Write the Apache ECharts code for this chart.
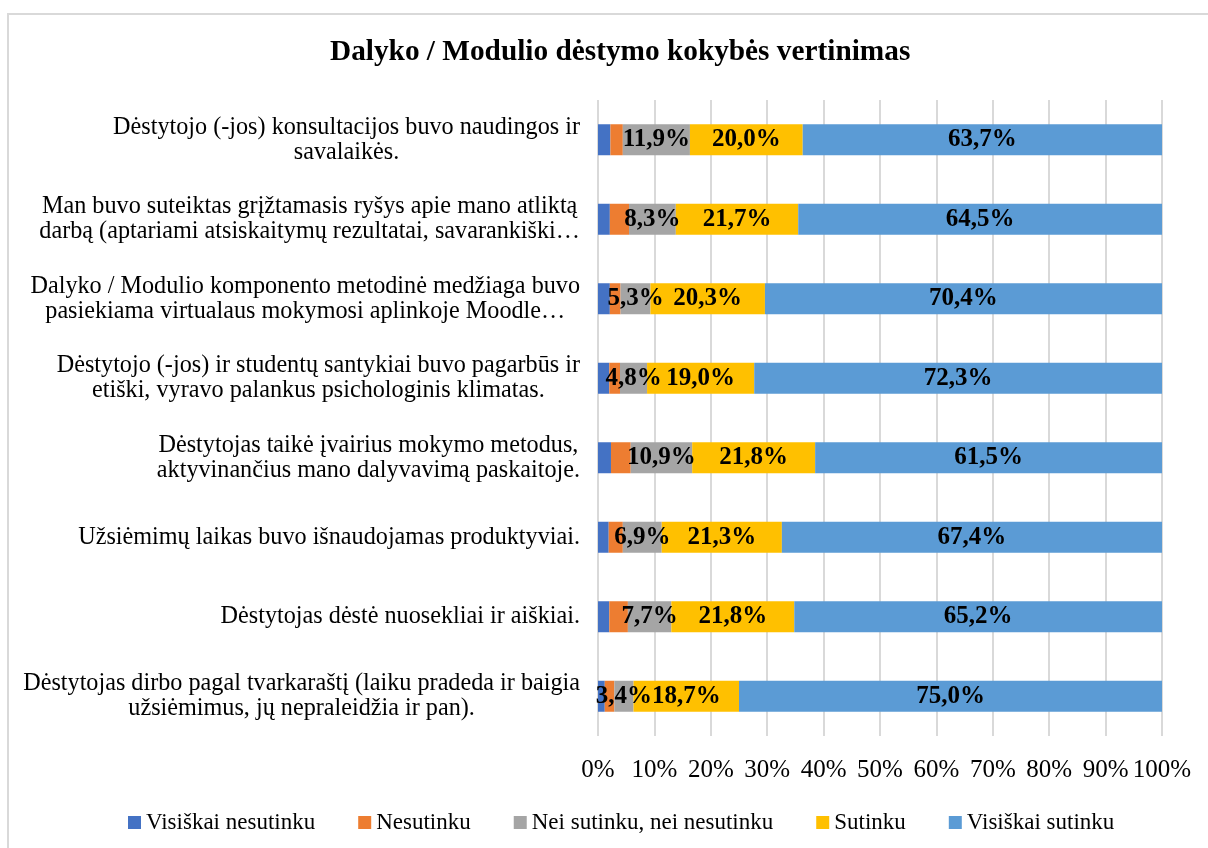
<!DOCTYPE html>
<html>
<head>
<meta charset="UTF-8">
<script src="https://cdn.jsdelivr.net/npm/echarts@6/dist/echarts.min.js"></script>
<style>
    html, body { margin: 0; padding: 0; background: #fff; }
    #frame { position: absolute; left: 7px; top: 13px; width: 1210px; height: 850px; border: 2px solid #d9d9d9; box-sizing: border-box; }
    #vertinimas { position: absolute; left: 0; top: 0; width: 1208px; height: 848px; }
</style>
</head>
<body>
<div id="frame"></div>
<div id="vertinimas"></div>

<script>
    /*klausimai (iš viršaus į apačią)*/
    var categories = [
        'Dėstytojo (-jos) konsultacijos buvo naudingos ir\nsavalaikės.',
        'Man buvo suteiktas grįžtamasis ryšys apie mano atliktą\ndarbą (aptariami atsiskaitymų rezultatai, savarankiški…',
        'Dalyko / Modulio komponento metodinė medžiaga buvo\npasiekiama virtualaus mokymosi aplinkoje Moodle…',
        'Dėstytojo (-jos) ir studentų santykiai buvo pagarbūs ir\netiški, vyravo palankus psichologinis klimatas.',
        'Dėstytojas taikė įvairius mokymo metodus,\naktyvinančius mano dalyvavimą paskaitoje.',
        'Užsiėmimų laikas buvo išnaudojamas produktyviai.',
        'Dėstytojas dėstė nuosekliai ir aiškiai.',
        'Dėstytojas dirbo pagal tvarkaraštį (laiku pradeda ir baigia\nužsiėmimus, jų nepraleidžia ir pan).'
    ];

    var seriesNames = ['Visiškai nesutinku', 'Nesutinku', 'Nei sutinku, nei nesutinku', 'Sutinku', 'Visiškai sutinku'];

    var visiskaiNesutinku = [2.2, 2.1, 2.1, 2.0, 2.3, 1.9, 2.0, 1.2];
    var nesutinku = [2.2, 3.4, 1.9, 1.9, 3.5, 2.5, 3.3, 1.7];
    var neiSutinku = [11.9, 8.3, 5.3, 4.8, 10.9, 6.9, 7.7, 3.4];
    var sutinku = [20.0, 21.7, 20.3, 19.0, 21.8, 21.3, 21.8, 18.7];
    var visiskaiSutinku = [63.7, 64.5, 70.4, 72.3, 61.5, 67.4, 65.2, 75.0];

    var xTicks = [0, 100, 10];

    var colors = ['#4472C4', '#ED7D31', '#A5A5A5', '#FFC000', '#5B9BD5'];
    var font = '"Liberation Serif", "Times New Roman", serif';

    var chart = function () {
        var vertinimasChart = echarts.init(document.getElementById('vertinimas'));

        var pctLabel = {
            show: true,
            position: 'inside',
            color: '#000',
            fontFamily: font,
            fontWeight: 'bold',
            fontSize: 25,
            formatter: function (p) {
                return p.value.toFixed(1).replace('.', ',') + '%';
            }
        };

        var allData = [visiskaiNesutinku, nesutinku, neiSutinku, sutinku, visiskaiSutinku];
        var series = seriesNames.map(function (name, i) {
            return {
                name: name,
                type: 'bar',
                stack: 'viso',
                barWidth: 31,
                data: allData[i],
                itemStyle: { color: colors[i] },
                label: i >= 2 ? pctLabel : { show: false }
            };
        });

        var option = {
            animation: false,
            backgroundColor: 'transparent',
            color: colors,
            title: {
                text: 'Dalyko / Modulio dėstymo kokybės vertinimas',
                left: 325,
                top: 33,
                textStyle: { fontFamily: font, fontWeight: 'bold', fontSize: 29.3, color: '#000' }
            },
            legend: {
                data: seriesNames,
                top: 806,
                left: 123,
                icon: 'rect',
                itemWidth: 13,
                itemHeight: 13,
                itemGap: 43,
                textStyle: { fontFamily: font, fontSize: 23, color: '#000' }
            },
            grid: {
                left: 598,
                right: 46,
                top: 100,
                bottom: 112,
                outerBoundsMode: 'none'
            },
            xAxis: {
                type: 'value',
                min: xTicks[0],
                max: xTicks[1],
                interval: xTicks[2],
                axisLine: { show: false },
                axisTick: { show: false },
                splitLine: { show: true, lineStyle: { color: '#d9d9d9', width: 2 } },
                axisLabel: {
                    formatter: '{value}%',
                    margin: 22,
                    fontFamily: font,
                    fontSize: 25,
                    color: '#000'
                }
            },
            yAxis: {
                type: 'category',
                inverse: true,
                data: categories,
                axisLine: { show: false },
                axisTick: { show: false },
                axisLabel: {
                    margin: 18,
                    formatter: function (v) {
                        return v.split('\n').map(function (l) { return '{c|' + l + '}'; }).join('\n');
                    },
                    rich: {
                        c: { align: 'center', fontFamily: font, fontSize: 24.2, lineHeight: 25, color: '#000' }
                    }
                }
            },
            series: series
        };
        vertinimasChart.setOption(option);

        window.addEventListener("resize", function () {
            vertinimasChart.resize();
        });
    };

    chart();
</script>
</body>
</html>
